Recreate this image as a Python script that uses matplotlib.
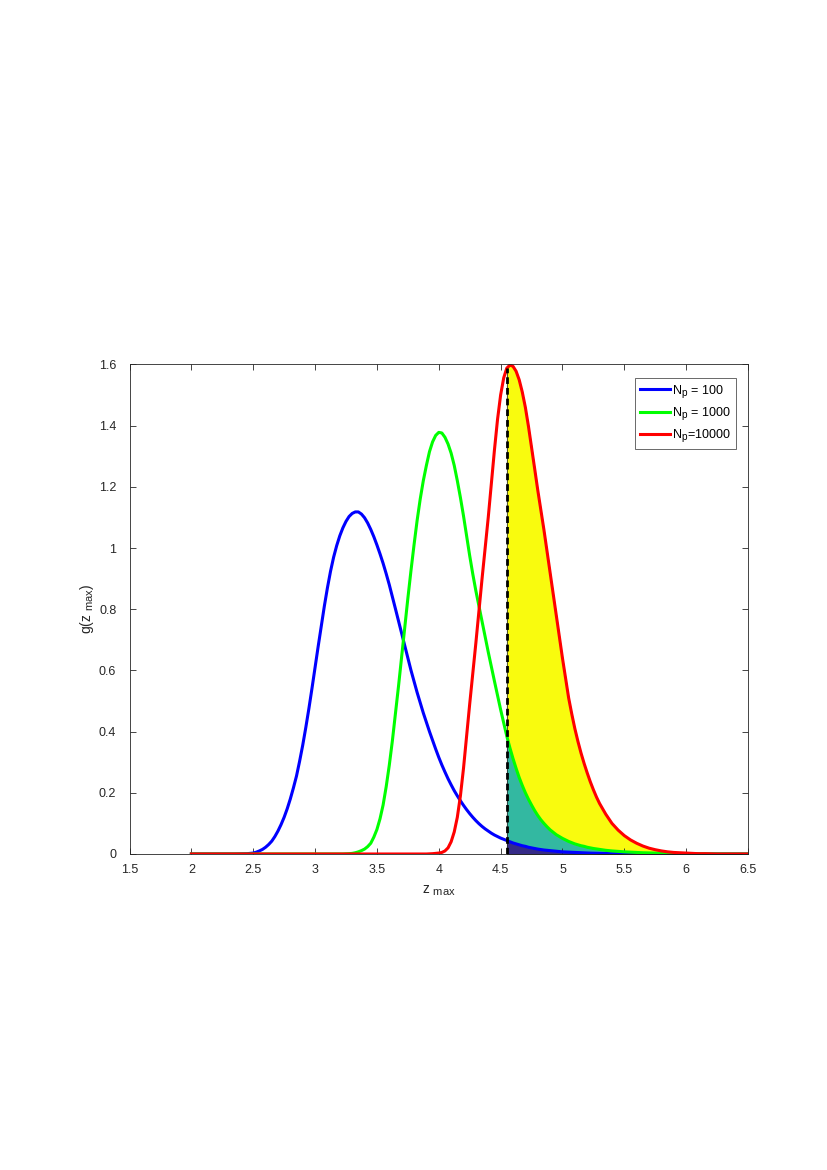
import matplotlib
matplotlib.use('Agg')
import matplotlib.pyplot as plt
import numpy as np
from matplotlib.ticker import FormatStrFormatter

try:
    # MATLAB-style subscripts are larger than the TeX default
    import matplotlib._mathtext as _mt
    _mt.SHRINK_FACTOR = 0.8
except Exception:
    pass

plt.rcParams['font.family'] = ['Liberation Sans', 'DejaVu Sans']
plt.rcParams['mathtext.fontset'] = 'custom'
plt.rcParams['mathtext.rm'] = 'Liberation Sans'
plt.rcParams['mathtext.it'] = 'Liberation Sans:italic'

# z_max sample points (finer where the curves bend)
z = [2.00, 2.05, 2.10, 2.15, 2.20, 2.25, 2.30, 2.35, 2.40, 2.45,
     2.475, 2.500, 2.525, 2.550, 2.575, 2.600, 2.625, 2.650, 2.675, 2.700,
     2.725, 2.750, 2.775, 2.800, 2.825, 2.850, 2.875, 2.900, 2.925, 2.950,
     2.975, 3.000, 3.025, 3.050, 3.075, 3.100, 3.125, 3.150, 3.175, 3.200,
     3.225, 3.250, 3.275, 3.300, 3.325, 3.350, 3.375, 3.400, 3.425, 3.450,
     3.475, 3.500, 3.525, 3.550, 3.575, 3.600, 3.625, 3.650, 3.675, 3.700,
     3.725, 3.750, 3.775, 3.800, 3.825, 3.850, 3.875, 3.900, 3.925, 3.950,
     3.975, 4.000, 4.025, 4.050, 4.075, 4.100, 4.125, 4.150, 4.175, 4.200,
     4.225, 4.250, 4.275, 4.300, 4.325, 4.350, 4.375, 4.400, 4.425, 4.450,
     4.475, 4.500, 4.525, 4.550, 4.575, 4.600, 4.625, 4.650, 4.675, 4.700,
     4.725, 4.750, 4.775, 4.800, 4.825, 4.850, 4.875, 4.900, 4.925, 4.950,
     4.975, 5.000, 5.025, 5.050, 5.075, 5.100, 5.125, 5.150, 5.175, 5.200,
     5.225, 5.250, 5.275, 5.300,
     5.35, 5.40, 5.45, 5.50, 5.55, 5.60, 5.65, 5.70, 5.75, 5.80,
     5.85, 5.90, 5.95, 6.00, 6.05, 6.10, 6.15, 6.20, 6.25, 6.30,
     6.35, 6.40, 6.45, 6.50]

g_100 = [0, 0, 0, 0, 0, 0, 0, 0, 0.0005, 0.001,
         0.002, 0.003, 0.006, 0.010, 0.015, 0.022, 0.031, 0.042, 0.057, 0.075,
         0.096, 0.120, 0.148, 0.180, 0.216, 0.255, 0.303, 0.355, 0.413, 0.475,
         0.541, 0.610, 0.678, 0.745, 0.810, 0.870, 0.924, 0.970, 1.008, 1.040,
         1.066, 1.087, 1.103, 1.113, 1.118, 1.118, 1.111, 1.099, 1.082, 1.061,
         1.037, 1.010, 0.981, 0.950, 0.916, 0.880, 0.841, 0.801, 0.761, 0.721,
         0.680, 0.640, 0.601, 0.564, 0.528, 0.494, 0.461, 0.430, 0.400, 0.371,
         0.343, 0.316, 0.291, 0.268, 0.246, 0.226, 0.207, 0.190, 0.174, 0.159,
         0.145, 0.132, 0.120, 0.109, 0.099, 0.090, 0.082, 0.075, 0.068, 0.062,
         0.057, 0.052, 0.048, 0.044, 0.040, 0.036, 0.033, 0.030, 0.027, 0.025,
         0.022, 0.020, 0.018, 0.016, 0.0145, 0.013, 0.012, 0.011, 0.010, 0.009,
         0.008, 0.007, 0.0065, 0.006, 0.0055, 0.005, 0.0045, 0.004, 0.0035, 0.003,
         0.0028, 0.0025, 0.0022, 0.002,
         0.0015, 0.001, 0.001, 0.0008, 0.0006, 0.0005, 0.0004, 0.0003, 0.0002, 0.0002,
         0.0001, 0.0001, 0, 0, 0, 0, 0, 0, 0, 0,
         0, 0, 0, 0]

g_1000 = [0, 0, 0, 0, 0, 0, 0, 0, 0, 0,
          0, 0, 0, 0, 0, 0, 0, 0, 0, 0,
          0, 0, 0, 0, 0, 0, 0, 0, 0, 0,
          0, 0, 0, 0, 0, 0, 0, 0, 0, 0,
          0, 0.0005, 0.001, 0.002, 0.004, 0.007, 0.011, 0.016, 0.024, 0.035,
          0.055, 0.080, 0.115, 0.160, 0.220, 0.290, 0.370, 0.460, 0.550, 0.645,
          0.740, 0.835, 0.925, 1.010, 1.090, 1.160, 1.220, 1.270, 1.315, 1.347,
          1.368, 1.378, 1.376, 1.362, 1.340, 1.310, 1.270, 1.220, 1.165, 1.105,
          1.040, 0.975, 0.915, 0.860, 0.810, 0.760, 0.710, 0.660, 0.612, 0.565,
          0.518, 0.472, 0.428, 0.385, 0.347, 0.312, 0.280, 0.250, 0.224, 0.200,
          0.179, 0.160, 0.142, 0.126, 0.112, 0.100, 0.089, 0.079, 0.071, 0.063,
          0.057, 0.051, 0.046, 0.041, 0.037, 0.033, 0.030, 0.027, 0.025, 0.022,
          0.020, 0.018, 0.0165, 0.015,
          0.012, 0.010, 0.0085, 0.007, 0.006, 0.005, 0.004, 0.0035, 0.003, 0.0025,
          0.002, 0.0015, 0.001, 0.001, 0.0008, 0.0005, 0.0003, 0.0002, 0.0001, 0,
          0, 0, 0, 0]

g_10000 = [0, 0, 0, 0, 0, 0, 0, 0, 0, 0,
           0, 0, 0, 0, 0, 0, 0, 0, 0, 0,
           0, 0, 0, 0, 0, 0, 0, 0, 0, 0,
           0, 0, 0, 0, 0, 0, 0, 0, 0, 0,
           0, 0, 0, 0, 0, 0, 0, 0, 0, 0,
           0, 0, 0, 0, 0, 0, 0, 0, 0, 0,
           0, 0, 0, 0, 0, 0, 0, 0, 0.0005, 0.001,
           0.002, 0.003, 0.005, 0.010, 0.020, 0.040, 0.072, 0.120, 0.190, 0.280,
           0.385, 0.490, 0.590, 0.690, 0.795, 0.900, 1.000, 1.100, 1.210, 1.320,
           1.420, 1.500, 1.556, 1.588, 1.598, 1.594, 1.578, 1.550, 1.510, 1.460,
           1.398, 1.330, 1.260, 1.190, 1.125, 1.060, 0.990, 0.920, 0.850, 0.780,
           0.710, 0.640, 0.575, 0.510, 0.458, 0.410, 0.368, 0.330, 0.296, 0.265,
           0.236, 0.210, 0.186, 0.165,
           0.130, 0.100, 0.078, 0.060, 0.046, 0.035, 0.026, 0.019, 0.014, 0.010,
           0.007, 0.005, 0.004, 0.003, 0.002, 0.001, 0.001, 0.0005, 0, 0,
           0, 0, 0, 0]

labels = [r'N$_{\mathrm{p}}$ = 100', r'N$_{\mathrm{p}}$ = 1000', r'N$_{\mathrm{p}}$=10000']
threshold = 4.55

z = np.array(z)
g_100 = np.array(g_100)
g_1000 = np.array(g_1000)
g_10000 = np.array(g_10000)

fig = plt.figure(figsize=(8.27, 11.70), dpi=100)
ax = fig.add_axes([0.1566, 0.2701, 0.7479, 0.4184])

# shaded tail areas beyond the threshold
m = z >= threshold - 1e-9
ax.fill_between(z[m], 0, g_100[m], facecolor='#352A87', edgecolor='k', linewidth=0.5)
ax.fill_between(z[m], g_100[m], g_1000[m], facecolor='#33B8A1', edgecolor='k', linewidth=0.5)
ax.fill_between(z[m], g_1000[m], g_10000[m], facecolor='#F9FB0E', edgecolor='k', linewidth=0.5)

ax.plot(z, g_100, color=(0, 0, 1), linewidth=2.2, label=labels[0])
ax.plot(z, g_1000, color=(0, 1, 0), linewidth=2.2, label=labels[1])
ax.plot(z, g_10000, color=(1, 0, 0), linewidth=2.2, label=labels[2])

peak = g_10000[m][0]
ax.plot([threshold, threshold], [0, peak], color='k', linewidth=2.0,
        linestyle=(0, (2.4, 1.45)), zorder=5)

ax.set_xlim(1.5, 6.5)
ax.set_ylim(0, 1.6)
ax.set_xticks(np.arange(1.5, 6.51, 0.5))
ax.set_yticks(np.arange(0, 1.61, 0.2))
ax.xaxis.set_major_formatter(FormatStrFormatter('%g'))
ax.yaxis.set_major_formatter(FormatStrFormatter('%g'))
ax.tick_params(direction='in', top=True, right=True, length=4.5, width=0.6,
               colors='#262626', labelsize=9)
ax.tick_params(axis='x', pad=7)
ax.tick_params(axis='y', pad=9.5)
for sp in ax.spines.values():
    sp.set_color('#262626')
    sp.set_linewidth(0.6)

ax.set_xlabel(r'z $_{\mathrm{max}}$', fontsize=10, color='#262626', va='center')
ax.set_ylabel(r'g(z $_{\mathrm{max}}$)', fontsize=10, color='#262626', va='center')
ax.xaxis.set_label_coords(0.5, -0.075)
ax.yaxis.set_label_coords(-0.068, 0.5)

leg = ax.legend(loc='upper right', bbox_to_anchor=(0.9806, 0.9722), borderaxespad=0,
                fontsize=9, frameon=True, fancybox=False, handlelength=2.35,
                handletextpad=0.2, borderpad=0.4, labelspacing=0.45)
leg.get_frame().set_edgecolor('#262626')
leg.get_frame().set_linewidth(0.6)

fig.savefig('out.png', dpi=100)
